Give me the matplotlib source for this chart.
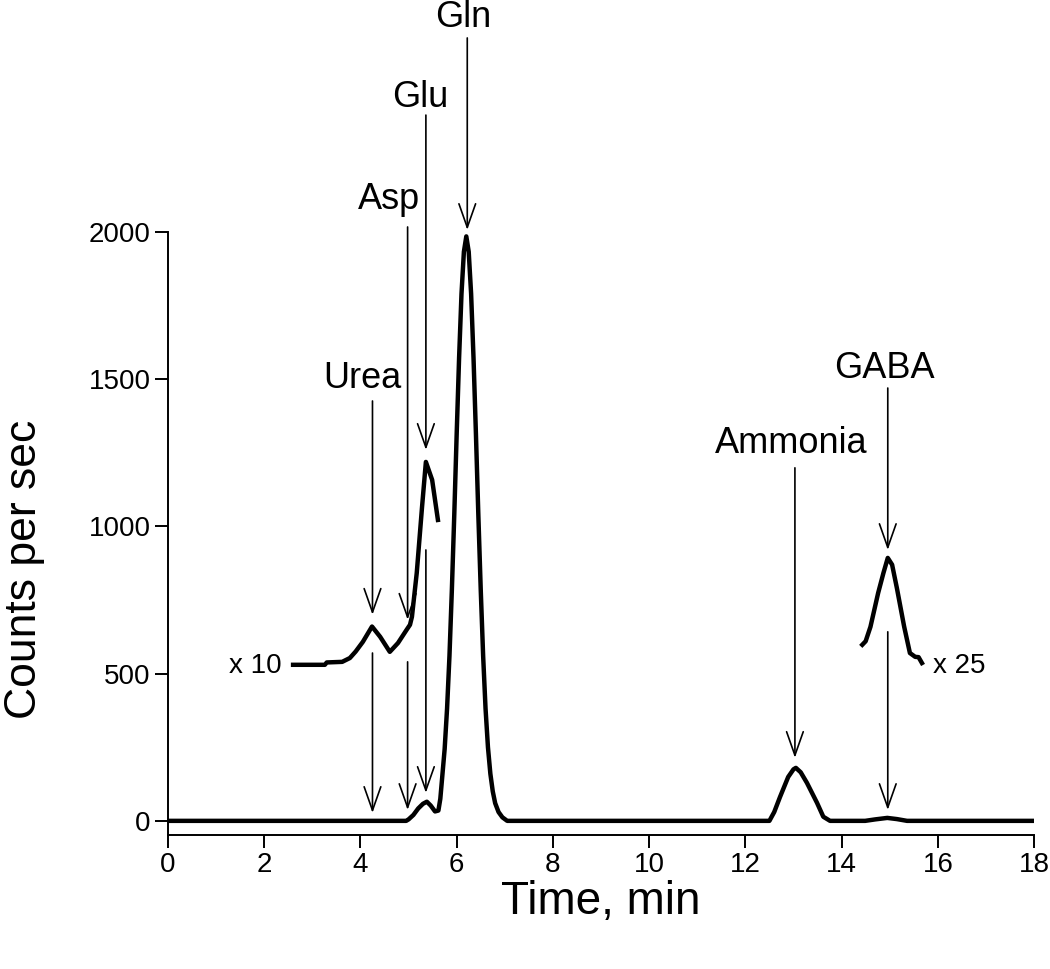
import matplotlib
matplotlib.use('Agg')
import matplotlib.pyplot as plt

plt.rcParams['font.family'] = ['Liberation Sans', 'DejaVu Sans']

# main chromatogram trace (time, counts)
main_t = [0, 4.95, 5.0, 5.1, 5.2, 5.3, 5.38, 5.46, 5.55, 5.62, 5.66, 5.7, 5.75, 5.8, 5.85,
          5.9, 5.95, 6.0, 6.05, 6.1, 6.15, 6.2, 6.25, 6.3, 6.35, 6.4, 6.45, 6.5, 6.55,
          6.6, 6.65, 6.7, 6.75, 6.8, 6.87, 6.95, 7.05, 12.5,
          12.6, 12.72, 12.89, 13.0, 13.05, 13.15, 13.28, 13.49, 13.62, 13.76, 14.49,
          14.7, 14.95, 15.15, 15.36, 18]
main_c = [0, 0, 5, 20, 42, 58, 65, 52, 32, 35, 75, 150, 244, 381, 560,
          785, 1040, 1314, 1572, 1790, 1933, 1985, 1933, 1790, 1572, 1314, 1040, 785, 560,
          381, 250, 160, 100, 60, 30, 12, 0, 0,
          30, 81, 149, 175, 180, 165, 129, 61, 14, 0, 0,
          5, 10, 6, 0, 0]

# x10 expanded trace
x10_t = [2.6, 3.26, 3.3, 3.62, 3.78, 3.9, 4.05, 4.24, 4.41, 4.61, 4.78, 4.96, 5.03,
         5.07, 5.17, 5.28, 5.36, 5.49, 5.61]
x10_c = [530, 530, 538, 540, 553, 575, 608, 660, 625, 574, 604, 649, 666,
         693, 842, 1066, 1219, 1158, 1022]

# x25 expanded trace
x25_t = [14.43, 14.5, 14.6, 14.76, 14.87, 14.96, 15.05, 15.15, 15.3, 15.42, 15.53, 15.6, 15.67]
x25_c = [598, 610, 659, 774, 842, 893, 870, 790, 660, 570, 557, 556, 536]

# peak labels: name, label pos (t, counts), arrow x, arrow top, arrow tip
peaks = ['Gln', 'Glu', 'Asp', 'Urea', 'Ammonia', 'GABA']
label_t = [6.13, 5.24, 4.6, 4.03, 12.95, 14.9]
label_c = [2730, 2458, 2109, 1501, 1280, 1538]
arrow_t = [6.22, 5.36, 4.98, 4.25, 13.03, 14.96]
arrow_top = [2659, 2397, 2017, 1426, 1199, 1470]
arrow_tip = [2007, 1260, 683, 700, 214, 920]

# lower arrows pointing at the main trace
low_t = [4.25, 4.98, 5.36, 14.96]
low_top = [570, 540, 920, 642]
low_tip = [27, 37, 95, 37]

fig = plt.figure(figsize=(10.5, 9.69), dpi=100)
ax = fig.add_axes([0.16, 0.1383, 0.8248, 0.6223])

ax.plot(main_t, main_c, color='black', lw=3.2, solid_joinstyle='round')
ax.plot(x10_t, x10_c, color='black', lw=3.2, solid_joinstyle='round', clip_on=False)
ax.plot(x25_t, x25_c, color='black', lw=3.2, solid_joinstyle='round', clip_on=False)

arrow_style = dict(arrowstyle='->,head_length=0.85,head_width=0.3', lw=1.2, color='black',
                   shrinkA=0, shrinkB=0, mutation_scale=20)
for name, lt, lc, at, top, tip in zip(peaks, label_t, label_c, arrow_t, arrow_top, arrow_tip):
    ax.text(lt, lc, name, ha='center', va='center', fontsize=26, clip_on=False)
    ax.annotate('', xy=(at, tip), xytext=(at, top), arrowprops=arrow_style, annotation_clip=False)
for at, top, tip in zip(low_t, low_top, low_tip):
    ax.annotate('', xy=(at, tip), xytext=(at, top), arrowprops=arrow_style, annotation_clip=False)

ax.text(2.37, 526, 'x 10', ha='right', va='center', fontsize=20)
ax.text(15.9, 526, 'x 25', ha='left', va='center', fontsize=20)

ax.set_xlim(0, 18)
ax.set_ylim(-48, 2000)
ax.set_xticks(range(0, 19, 2))
ax.set_yticks(range(0, 2001, 500))
for sp in ['top', 'right']:
    ax.spines[sp].set_visible(False)
for sp in ['left', 'bottom']:
    ax.spines[sp].set_linewidth(1.4)
ax.tick_params(direction='out', length=9.5, width=1.4, pad=3, labelsize=20)

ax.set_xlabel('Time, min', fontsize=33, va='top')
ax.set_ylabel('Counts per sec', fontsize=32)
ax.xaxis.set_label_coords(0.5, -0.075)
ax.yaxis.set_label_coords(-0.1415, 0.44)

fig.savefig('out.png', dpi=100)
